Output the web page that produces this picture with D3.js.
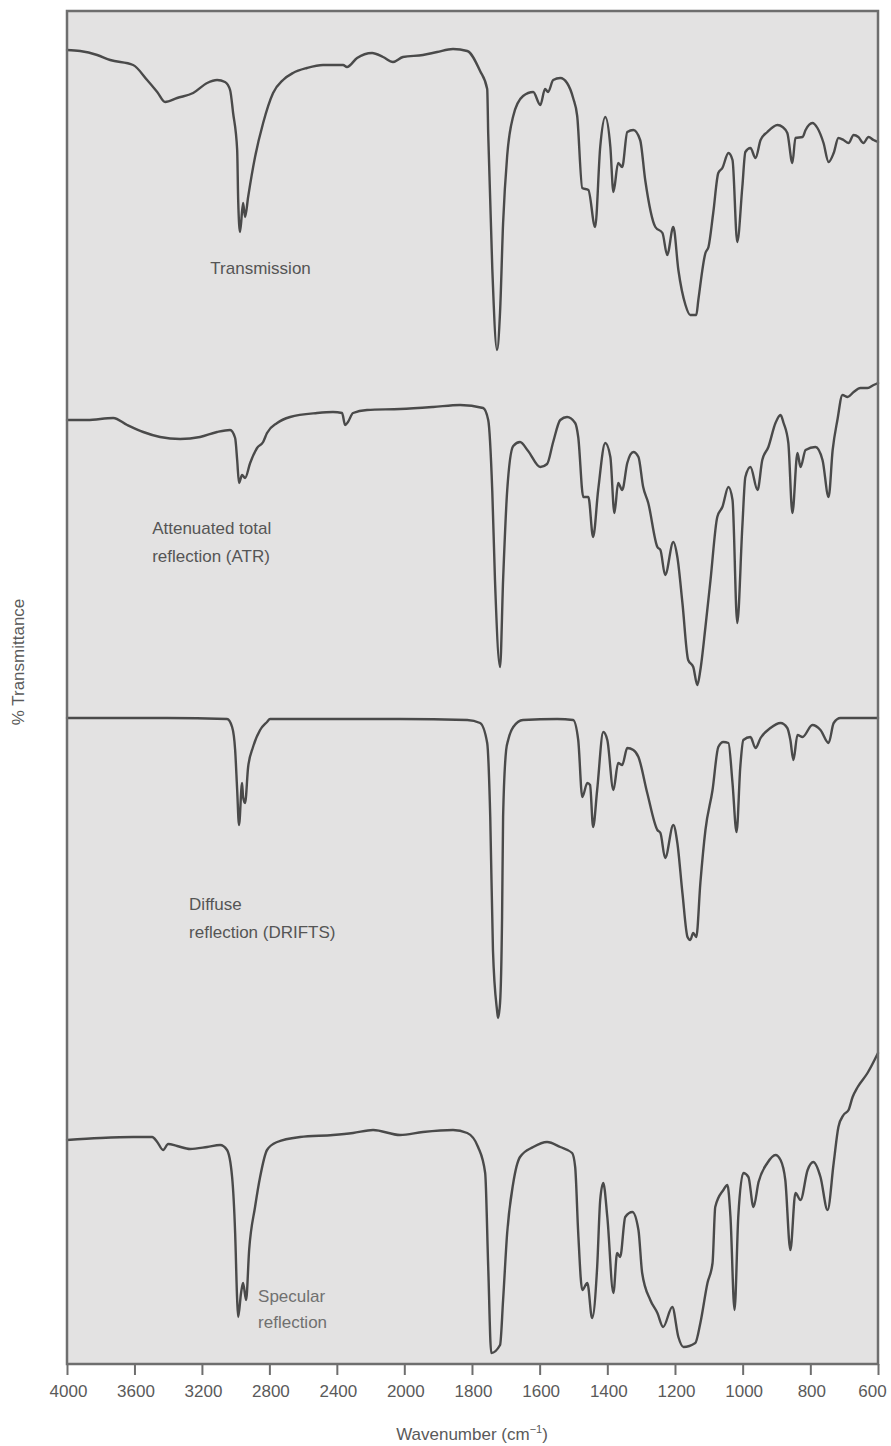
<!DOCTYPE html>
<html>
<head>
<meta charset="utf-8">
<script src="https://cdn.jsdelivr.net/npm/d3@7"></script>
<style>
  html, body { margin: 0; padding: 0; background: #ffffff; }
  svg { display: block; }
  text { font-family: "Liberation Sans", Arial, Helvetica, sans-serif; }
</style>
</head>
<body>
<svg id="chart" width="891" height="1446"></svg>
<script>
// ---- DATA (wavenumber in cm-1, stacked transmittance in arbitrary offset units) ----
const tickValues = [4000, 3600, 3200, 2800, 2400, 2000, 1800, 1600, 1400, 1200, 1000, 800, 600];

const transmissionWn = [4000,3922,3821,3744,3608,3525,3465,3418,3347,3252,3169,3110,3063,3033,3015,2991,2985,2974,2956,2944,2926,2885,2837,2778,2719,2660,2577,2482,2363,2340,2280,2191,2126,2067,2008,1945,1903,1856,1814,1776,1755,1752,1740,1726,1717,1708,1696,1678,1649,1619,1598,1584,1575,1560,1539,1519,1501,1489,1474,1456,1436,1421,1406,1391,1382,1368,1356,1341,1323,1303,1288,1258,1237,1223,1205,1190,1169,1155,1137,1131,1110,1101,1087,1072,1060,1042,1030,1016,1001,992,977,962,947,927,897,882,868,853,844,823,814,794,779,761,746,731,717,702,687,672,658,643,628,613,600];
const transmissionT = [131.4,131.3,130.9,130.4,129.9,128.4,127.2,126.2,126.6,127.1,128.1,128.4,128.2,127.4,125.1,121.4,116.4,113.2,116.1,114.7,116.7,120.7,124.1,127.1,128.4,129.1,129.6,129.9,129.9,129.7,130.6,131.1,130.7,130.2,130.7,130.9,131.2,131.5,131.3,129.3,127.5,123.0,109.6,101.4,105.2,114.1,120.8,124.8,126.8,127.2,125.9,127.5,127.2,128.4,128.6,128.1,126.6,124.8,117.6,117.4,113.7,121.7,124.7,121.7,117.2,120.1,119.7,123.2,123.4,122.4,118.4,113.7,113.1,110.9,113.7,109.4,105.9,104.9,104.9,106.4,111.1,111.7,115.1,119.1,119.6,121.1,120.4,112.2,117.7,121.2,121.6,120.6,122.4,123.2,123.9,123.7,123.1,120.1,122.6,122.7,123.4,124.1,123.6,122.1,120.2,121.1,122.6,122.4,122.1,122.9,122.7,122.1,122.7,122.4,122.2];

const atrWn = [4000,3880,3726,3643,3548,3448,3329,3211,3110,3033,3003,2991,2980,2962,2944,2914,2873,2837,2814,2754,2677,2517,2423,2369,2351,2334,2304,2221,2025,1915,1835,1767,1752,1740,1732,1717,1708,1696,1678,1658,1634,1598,1578,1560,1539,1519,1495,1486,1471,1456,1442,1427,1406,1391,1379,1368,1356,1341,1323,1308,1294,1279,1252,1243,1229,1205,1193,1178,1161,1146,1134,1125,1110,1095,1075,1060,1042,1030,1016,1001,992,977,956,942,924,903,888,879,865,853,838,829,814,785,764,746,734,720,705,690,672,652,631,613,600];
const atrT = [94.4,94.4,94.6,93.9,93.2,92.7,92.5,92.7,93.2,93.4,92.6,90.4,88.1,88.9,88.6,90.1,91.6,92.2,93.1,94.1,94.7,95.1,95.2,95.1,93.9,94.2,95.1,95.4,95.5,95.7,95.9,95.6,94.4,87.3,78.4,69.7,78.4,87.3,91.8,92.2,91.3,89.7,90.0,92.2,94.4,94.7,94.1,92.7,86.7,86.7,82.7,87.4,92.1,90.7,85.1,88.1,87.4,90.1,91.2,90.7,87.7,86.1,81.7,81.4,78.9,82.2,80.7,76.1,70.4,69.7,67.9,69.4,73.7,78.4,84.7,85.7,87.7,86.4,74.1,83.7,88.7,89.7,87.4,90.4,91.7,94.1,94.9,94.1,92.1,85.1,91.1,89.7,91.4,91.7,90.4,86.7,91.4,94.4,96.9,96.7,97.2,97.6,97.6,97.9,98.1];

const driftsWn = [4000,3406,3051,3021,3003,2991,2980,2962,2956,2944,2926,2897,2855,2814,2796,2025,1814,1776,1755,1746,1738,1726,1723,1717,1711,1708,1699,1693,1678,1649,1548,1501,1486,1474,1459,1451,1442,1430,1412,1400,1382,1368,1356,1341,1323,1308,1282,1252,1243,1229,1205,1193,1178,1163,1155,1146,1137,1125,1110,1089,1072,1057,1042,1030,1018,1007,998,977,962,947,918,888,868,859,850,838,823,794,770,746,731,711,600];
const driftsT = [64.6,64.6,64.5,63.7,61.4,57.4,53.9,58.1,56.7,56.1,59.7,61.7,63.4,64.2,64.5,64.5,64.4,64.1,62.1,54.7,41.4,35.4,34.6,36.1,44.7,54.7,61.4,62.4,63.7,64.4,64.5,64.4,62.4,56.7,58.1,57.9,53.7,57.4,63.2,62.4,57.4,60.1,59.9,61.6,61.4,60.7,57.1,53.4,53.1,50.6,53.9,52.1,47.1,42.7,42.4,43.1,42.7,48.1,53.4,57.4,61.7,62.2,62.1,58.1,53.2,59.7,62.4,62.7,61.6,62.6,63.6,64.1,63.6,62.4,60.4,62.9,62.7,63.9,63.4,62.1,64.1,64.6,64.6];

const specularWn = [4000,3803,3608,3495,3465,3430,3400,3347,3270,3169,3092,3051,3021,3003,2991,2985,2968,2956,2938,2920,2885,2855,2814,2754,2618,2423,2304,2185,2025,1945,1856,1814,1782,1761,1752,1743,1717,1708,1696,1678,1658,1619,1578,1539,1504,1495,1486,1474,1459,1445,1430,1421,1412,1400,1382,1371,1362,1347,1326,1308,1297,1273,1252,1235,1208,1190,1175,1140,1125,1104,1089,1081,1057,1045,1036,1024,1013,998,983,968,953,927,903,888,874,859,844,829,808,791,770,749,731,717,702,687,675,660,631,600];
const specularT = [22.4,22.6,22.7,22.7,22.2,21.4,22.0,21.8,21.5,21.7,21.9,21.4,18.7,13.1,6.4,4.7,7.1,8.1,6.4,11.4,15.7,18.7,21.4,22.2,22.7,22.9,23.1,23.4,22.9,23.2,23.4,23.1,21.7,19.1,9.7,1.1,1.9,6.4,13.1,18.1,20.7,21.7,22.2,21.7,21.1,19.7,13.1,7.4,8.1,4.6,9.7,16.4,18.1,14.7,7.1,11.1,10.7,14.7,15.2,13.4,9.1,6.4,5.1,3.7,5.7,2.7,1.7,2.1,4.1,8.1,10.1,15.7,17.4,17.9,14.7,5.4,14.7,19.1,18.7,15.7,18.2,20.1,20.9,20.4,18.4,11.4,17.1,16.4,19.4,20.2,18.7,15.4,20.1,23.7,24.9,25.4,26.7,27.7,29.1,31.1];

const seriesNames = ["Transmission", "ATR", "DRIFTS", "Specular"];
const labelLines = [["Transmission"], ["Attenuated total", "reflection (ATR)"], ["Diffuse", "reflection (DRIFTS)"], ["Specular", "reflection"]];
const labelWn = [3150, 3495, 3276, 2867];
const labelT = [109.0, 83.0, 45.4, 6.2];

(function () {
  // ---- LAYOUT ----
  const svg = d3.select("#chart");
  const pLeft = 67, pRight = 878, pTop = 11, pBottom = 1364;

  const x = d3.scaleLinear().domain([4000, 2000, 600]).range([pLeft, 404.3, pRight]);
  const y = d3.scaleLinear().domain([0, 135.3]).range([pBottom, pTop]);

  // plot background
  svg.append("rect")
    .attr("x", pLeft).attr("y", pTop)
    .attr("width", pRight - pLeft).attr("height", pBottom - pTop)
    .attr("fill", "#e3e2e2");

  // spectra
  const spectra = [
    d3.zip(transmissionWn, transmissionT),
    d3.zip(atrWn, atrT),
    d3.zip(driftsWn, driftsT),
    d3.zip(specularWn, specularT)
  ];
  const line = d3.line().curve(d3.curveMonotoneX).x(d => x(d[0])).y(d => y(d[1]));
  svg.append("g").selectAll("path").data(spectra).join("path")
    .attr("class", (d, i) => "spectrum " + seriesNames[i])
    .attr("d", line)
    .attr("fill", "none")
    .attr("stroke", "#4a4a4a")
    .attr("stroke-width", 2.4)
    .attr("stroke-linejoin", "round")
    .attr("stroke-linecap", "round");

  // frame
  svg.append("rect")
    .attr("x", pLeft).attr("y", pTop)
    .attr("width", pRight - pLeft).attr("height", pBottom - pTop)
    .attr("fill", "none").attr("stroke", "#6e6e6e").attr("stroke-width", 2.5);

  // x axis
  const axis = svg.append("g")
    .attr("transform", `translate(0,${pBottom})`)
    .call(d3.axisBottom(x).tickValues(tickValues).tickSize(11).tickPadding(10).tickFormat(d3.format("d")));
  axis.select(".domain").remove();
  axis.selectAll(".tick line").attr("stroke", "#6e6e6e").attr("stroke-width", 2);
  axis.selectAll(".tick text")
    .attr("fill", "#5a5a5a")
    .style("font-size", "17px")
    .style("font-family", "'Liberation Sans', Arial, sans-serif")
    .attr("dx", d => d === 600 ? -6 : 1);

  // axis titles
  const xt = svg.append("text")
    .attr("x", 472).attr("y", 1440)
    .attr("text-anchor", "middle")
    .attr("fill", "#5a5a5a")
    .style("font-size", "17px");
  xt.append("tspan").text("Wavenumber (cm");
  xt.append("tspan").attr("dy", -7).style("font-size", "11px").text("\u22121");
  xt.append("tspan").attr("dy", 7).text(")");

  svg.append("text")
    .attr("transform", "translate(24,662) rotate(-90)")
    .attr("text-anchor", "middle")
    .attr("fill", "#5a5a5a")
    .style("font-size", "17px")
    .text("% Transmittance");

  // series labels
  labelLines.forEach((lines, i) => {
    const t = svg.append("text")
      .attr("x", x(labelWn[i])).attr("y", y(labelT[i]))
      .attr("fill", i === 3 ? "#707070" : "#555555")
      .style("font-size", "17px");
    lines.forEach((s, j) => {
      t.append("tspan").attr("x", x(labelWn[i])).attr("dy", j === 0 ? 0 : (i === 3 ? 26 : 28)).text(s);
    });
  });
})();
</script>
</body>
</html>
